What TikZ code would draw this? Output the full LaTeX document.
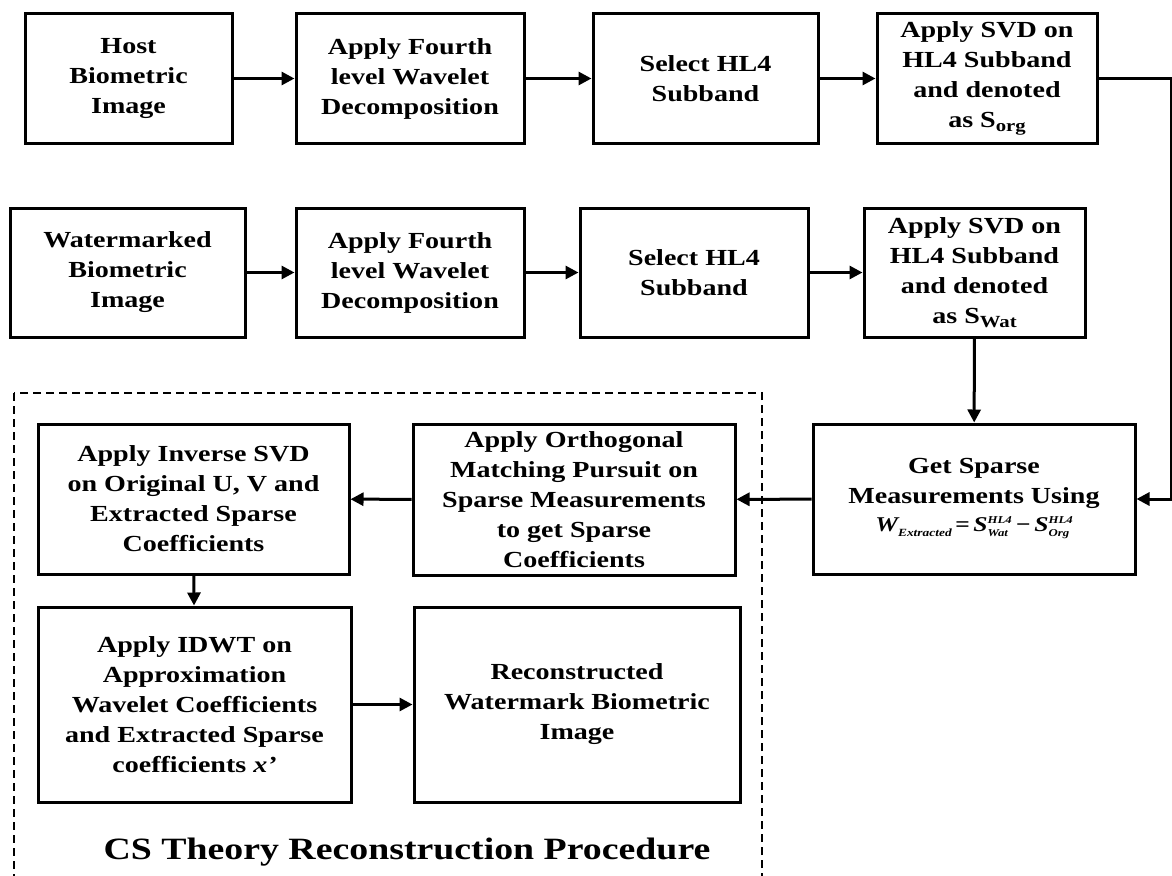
\documentclass[tikz,border=0pt]{standalone}
\usepackage{fontspec}
\setmainfont{Liberation Serif}[FakeStretch=1.22]
\usetikzlibrary{arrows.meta}
\newcommand{\supsubx}[2]{\raisebox{0.15ex}{\fontsize{10.5}{12.5}\selectfont\begin{tabular}{@{}l@{}}#1\\#2\end{tabular}}}
\tikzset{
  box/.style={draw, line width=3pt, align=center, inner sep=0pt,
    font=\fontsize{23}{30}\selectfont\bfseries},
  arr/.style={line width=3pt, -{Triangle[length=13pt,width=13pt]}},
  frame/.style={line width=2.2pt, dash pattern=on 8pt off 5pt}
}
\begin{document}
\begin{tikzpicture}[x=1pt,y=-1pt]
\clip (0,0) rectangle (1172,875);
\fill[white] (0,0) rectangle (1172,875);
% row 1
\node[box, minimum width=207pt, minimum height=129pt] (a1) at (128.5,78.5) {Host\\Biometric\\Image};
\node[box, minimum width=228pt, minimum height=129pt] (a2) at (410,78.5) {Apply Fourth\\level Wavelet\\Decomposition};
\node[box, minimum width=225pt, minimum height=129pt] (a3) at (705.5,78.5) {Select HL4\\Subband};
\node[box, minimum width=220pt, minimum height=129pt] (a4) at (987,78.5) {Apply SVD on\\HL4 Subband\\and denoted\\as S\raisebox{-0.35ex}{\fontsize{17}{17}\selectfont org}};
% row 2
\node[box, minimum width=235pt, minimum height=129pt] (b1) at (127.5,272.5) {Watermarked\\Biometric\\Image};
\node[box, minimum width=228pt, minimum height=129pt] (b2) at (410,272.5) {Apply Fourth\\level Wavelet\\Decomposition};
\node[box, minimum width=228pt, minimum height=129pt] (b3) at (694,272.5) {Select HL4\\Subband};
\node[box, minimum width=221pt, minimum height=129pt] (b4) at (974.5,272.5) {Apply SVD on\\HL4 Subband\\and denoted\\as S\raisebox{-0.35ex}{\fontsize{17}{17}\selectfont Wat}};
% row 3
\node[box, minimum width=322pt, minimum height=150pt] (s) at (974,499) {Get Sparse\\Measurements Using\\[-2pt]{\fontsize{21}{24}\selectfont\bfseries\itshape W\raisebox{-0.5ex}{\fontsize{11}{11}\selectfont Extracted}\,=\,S\supsubx{HL4}{Wat}\,−\,S\supsubx{HL4}{Org}}};
\node[box, minimum width=322pt, minimum height=151pt] (o) at (574,499.5) {Apply Orthogonal\\Matching Pursuit on\\Sparse Measurements\\to get Sparse\\Coefficients};
\node[box, minimum width=311pt, minimum height=150pt] (i) at (193.5,499) {Apply Inverse SVD\\on Original U, V and\\Extracted Sparse\\Coefficients};
% row 4
\node[box, minimum width=313pt, minimum height=195pt] (d) at (194.5,704.5) {Apply IDWT on\\Approximation\\Wavelet Coefficients\\and Extracted Sparse\\coefficients \textit{x’}};
\node[box, minimum width=326pt, minimum height=195pt] (r) at (577,704.5) {Reconstructed\\Watermark Biometric\\Image};
% frame and title
\draw[frame] (14,393) rectangle (762,900);
\node[font=\fontsize{31}{36}\selectfont\bfseries] (t) at (407,852) {CS Theory Reconstruction Procedure};
% connectors
\draw[arr] (a1) -- (a2);
\draw[arr] (a2) -- (a3);
\draw[arr] (a3) -- (a4);
\draw[arr] (b1) -- (b2);
\draw[arr] (b2) -- (b3);
\draw[arr] (b3) -- (b4);
\draw[arr] (b4) -- (s);
\coordinate (rc) at (1171,78.5);
\draw[arr] (a4.east) -- (rc) |- (s.east);
\draw[arr] (s) -- (o);
\draw[arr] (o) -- (i);
\draw[arr] (i) -- (d);
\draw[arr] (d) -- (r);
\end{tikzpicture}
\end{document}
